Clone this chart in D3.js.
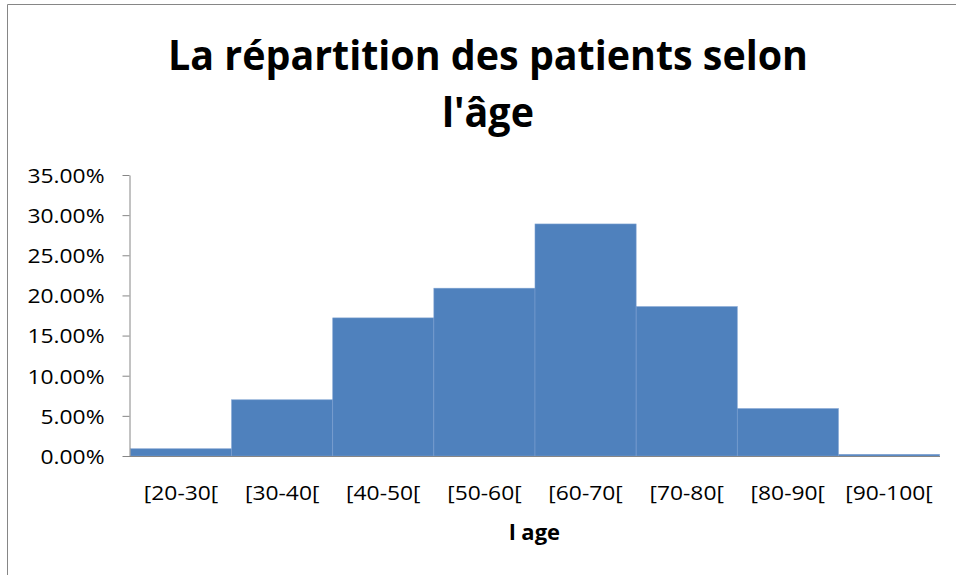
<!DOCTYPE html>
<html>
<head>
<meta charset="utf-8">
<script src="https://cdn.jsdelivr.net/npm/d3@7"></script>
<style>
  body { margin: 0; background: #fff; }
  svg { display: block; }
</style>
</head>
<body>
<div id="chart"></div>
<script>
// age classes and share of patients
var categories = ["[20-30[", "[30-40[", "[40-50[", "[50-60[", "[60-70[", "[70-80[", "[80-90[", "[90-100["];
var values = [0.009, 0.070, 0.172, 0.209, 0.289, 0.186, 0.059, 0.002];
var yTicks = [0, 0.05, 0.10, 0.15, 0.20, 0.25, 0.30, 0.35];
var titleLines = ["La répartition des patients selon", "l'âge"];
var xTitle = "l age";

var w = 956, h = 575;
var margin = { top: 175, right: 17, bottom: 119, left: 130 };
var width = w - margin.left - margin.right,
    height = h - margin.top - margin.bottom;

var svg = d3.select("#chart")
  .append("svg")
  .attr("width", w)
  .attr("height", h);

svg.append("rect").attr("width", w).attr("height", h).attr("fill", "#fff");

// chart frame (only left and top edges visible)
svg.append("path")
  .attr("d", "M7.5," + h + "V4.5H" + w)
  .attr("fill", "none")
  .attr("stroke", "#868686")
  .attr("stroke-width", 1);

// title
var title = svg.append("g")
  .attr("font-family", "'Open Sans', sans-serif")
  .attr("font-weight", "bold")
  .attr("font-size", "41px")
  .attr("fill", "#000")
  .attr("text-anchor", "middle");

title.selectAll("text")
  .data(titleLines)
  .enter()
  .append("text")
  .attr("x", 488)
  .attr("y", function (d, i) { return 70 + i * 57; })
  .text(function (d) { return d; });

var titleStretch = 1.0;
title.selectAll("text").each(function (d, i) {
  var nat = this.getComputedTextLength();
  if (i === 0) titleStretch = 640 / nat;
  d3.select(this).attr("textLength", nat * titleStretch).attr("lengthAdjust", "spacingAndGlyphs");
});

var g = svg.append("g")
  .attr("transform", "translate(" + margin.left + "," + margin.top + ")");

var x = d3.scaleBand()
  .domain(categories)
  .range([0.5, width + 0.5])
  .padding(0);

var y = d3.scaleLinear()
  .domain([0, 0.35])
  .range([height, 0]);

// bars
g.append("g")
  .selectAll("rect")
  .data(values)
  .enter()
  .append("rect")
  .attr("x", function (d, i) { return x(categories[i]); })
  .attr("y", function (d) { return y(d); })
  .attr("width", x.bandwidth())
  .attr("height", function (d) { return y(0) - y(d); })
  .attr("fill", "#4f81bd")
  .attr("stroke", "#7b9fd0")
  .attr("stroke-width", 0.6);

// y axis
var yAxis = g.append("g")
  .attr("transform", "translate(-0.5,0)")
  .call(d3.axisLeft(y)
    .tickValues(yTicks)
    .tickFormat(d3.format(".2%"))
    .tickSize(7)
    .tickSizeOuter(0)
    .tickPadding(18));

yAxis.select(".domain").attr("stroke", "#868686");
yAxis.selectAll(".tick line").attr("stroke", "#868686");
yAxis.selectAll(".tick text")
  .attr("font-family", "'Open Sans', sans-serif")
  .attr("font-size", "20px")
  .attr("fill", "#000")
  .attr("dy", "0.37em");

// x axis
var xAxis = g.append("g")
  .attr("transform", "translate(0," + (height + 0.5) + ")")
  .call(d3.axisBottom(x).tickSize(0).tickSizeOuter(0).tickPadding(30));

xAxis.select(".domain")
  .attr("stroke", "#868686")
  .attr("d", "M-1,0H" + (width + 1));
xAxis.selectAll(".tick text")
  .attr("font-family", "'Open Sans', sans-serif")
  .attr("font-size", "20px")
  .attr("fill", "#000")
  .attr("dy", "0")
  .attr("y", 43);

// tick labels are wider in the original: "35.00%" is about 77px
var tickStretch = 1.0;
yAxis.selectAll(".tick text").each(function (d) {
  if (d === 0.35) tickStretch = 77 / this.getComputedTextLength();
});
svg.selectAll(".tick text").each(function () {
  var nat = this.getComputedTextLength();
  d3.select(this).attr("textLength", nat * tickStretch).attr("lengthAdjust", "spacingAndGlyphs");
});

// x axis title
svg.append("text")
  .attr("x", margin.left + width / 2)
  .attr("y", 540)
  .attr("text-anchor", "middle")
  .attr("font-family", "'Open Sans', sans-serif")
  .attr("font-weight", "bold")
  .attr("font-size", "22px")
  .attr("fill", "#000")
  .text(xTitle);
</script>
</body>
</html>
